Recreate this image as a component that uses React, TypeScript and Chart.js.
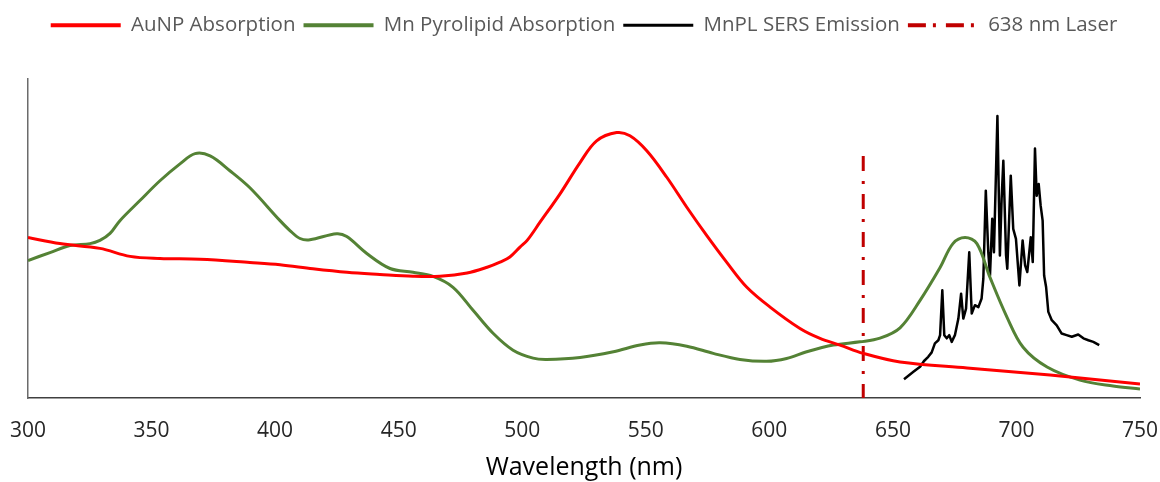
import React, { useEffect, useRef } from "react";
import { Chart, registerables } from "chart.js";

Chart.register(...registerables);

// ---- Data (wavelength in nm, normalised absorbance / intensity) ----
const auNpNm = [300, 312.9, 329.1, 341.3, 353.4, 369.6, 389.8, 402.0, 415.3, 429.1, 442.4, 455.8, 466.7, 477.7, 485.8, 491.0, 495.0, 499.1, 502.0, 507.2, 515.3, 523.4, 530.1, 538.2, 543.6, 550.4, 558.5, 566.6, 574.7, 582.7, 590.8, 600.3, 612.4, 620.5, 628.6, 638.0, 652.9, 680.0, 713.6, 750];
const auNpAbs = [0.503, 0.484, 0.469, 0.444, 0.4375, 0.435, 0.425, 0.418, 0.405, 0.394, 0.3875, 0.382, 0.382, 0.392, 0.41, 0.426, 0.442, 0.473, 0.494, 0.551, 0.64, 0.738, 0.806, 0.832, 0.822, 0.775, 0.692, 0.598, 0.509, 0.426, 0.348, 0.285, 0.218, 0.187, 0.166, 0.14, 0.113, 0.094, 0.072, 0.044];

const mnPlNm = [300, 308.9, 317.0, 325.1, 329.1, 333.2, 337.2, 345.3, 353.4, 361.5, 367.6, 373.7, 381.7, 389.8, 402.0, 406.0, 410.1, 414.1, 424.9, 429.0, 437.1, 446.5, 455.8, 463.9, 472.0, 480.1, 488.2, 496.3, 504.4, 509.9, 523.4, 536.9, 547.7, 555.8, 566.6, 577.3, 588.1, 598.9, 607.0, 615.1, 625.9, 636.7, 644.8, 652.9, 661.0, 669.1, 674.3, 679.2, 684.0, 689.3, 696.2, 702.7, 712.4, 725.7, 739.1, 750];
const mnPlAbs = [0.431, 0.456, 0.478, 0.484, 0.494, 0.516, 0.556, 0.619, 0.681, 0.734, 0.766, 0.759, 0.7125, 0.659, 0.556, 0.525, 0.5, 0.496, 0.515, 0.506, 0.453, 0.406, 0.394, 0.381, 0.347, 0.275, 0.203, 0.15, 0.125, 0.121, 0.127, 0.145, 0.166, 0.173, 0.1625, 0.14, 0.121, 0.115, 0.124, 0.145, 0.166, 0.176, 0.1875, 0.22, 0.306, 0.409, 0.484, 0.503, 0.484, 0.378, 0.253, 0.159, 0.097, 0.056, 0.0375, 0.028];

const sersNm = [654.5, 658.3, 661.0, 662.6, 664.3, 665.7, 667.0, 668.4, 669.1, 670.0, 670.8, 671.8, 672.8, 673.8, 675.1, 676.5, 677.6, 678.5, 679.6, 680.9, 681.9, 683.2, 684.6, 685.9, 686.6, 687.6, 688.6, 689.3, 690.2, 690.9, 692.3, 693.3, 694.0, 694.7, 695.8, 696.3, 697.7, 698.7, 699.8, 701.2, 702.5, 703.5, 704.4, 705.8, 706.6, 707.5, 708.2, 709.0, 709.8, 710.6, 711.2, 712.0, 712.9, 714.3, 716.3, 718.3, 720.3, 722.4, 725.0, 727.1, 729.1, 731.1, 733.5];
const sersInt = [0.059, 0.082, 0.098, 0.116, 0.129, 0.143, 0.171, 0.181, 0.197, 0.3375, 0.197, 0.187, 0.197, 0.176, 0.197, 0.249, 0.327, 0.249, 0.28, 0.457, 0.265, 0.291, 0.285, 0.312, 0.374, 0.65, 0.457, 0.384, 0.562, 0.457, 0.884, 0.447, 0.624, 0.744, 0.447, 0.405, 0.697, 0.53, 0.499, 0.353, 0.494, 0.416, 0.395, 0.504, 0.426, 0.782, 0.634, 0.671, 0.603, 0.556, 0.384, 0.348, 0.27, 0.244, 0.228, 0.202, 0.197, 0.192, 0.199, 0.187, 0.181, 0.176, 0.166];

const laserNm = [638, 638];
const laserY = [0.759, 0];

const seriesLabels = ["AuNP Absorption", "Mn Pyrolipid Absorption", "MnPL SERS Emission", "638 nm Laser"];
const xTicks = [300, 350, 400, 450, 500, 550, 600, 650, 700, 750];

const toPoints = (xs: number[], ys: number[]) => xs.map((x, i) => ({ x, y: ys[i] }));

export default function App() {
  const ref = useRef<HTMLCanvasElement | null>(null);

  useEffect(() => {
    if (!ref.current) return;
    Chart.defaults.font.family = '"Open Sans", sans-serif';
    const legendDash: Record<number, number[]> = { 3: [18, 7, 3, 10] };
    const chart = new Chart(ref.current, {
      type: "line",
      data: {
        datasets: [
          {
            label: seriesLabels[0],
            data: toPoints(auNpNm, auNpAbs),
            borderColor: "#FF0000",
            backgroundColor: "#FF0000",
            borderWidth: 3,
            pointRadius: 0,
            tension: 0.35,
          },
          {
            label: seriesLabels[1],
            data: toPoints(mnPlNm, mnPlAbs),
            borderColor: "#548235",
            backgroundColor: "#548235",
            borderWidth: 3,
            pointRadius: 0,
            tension: 0.35,
          },
          {
            label: seriesLabels[2],
            data: toPoints(sersNm, sersInt),
            borderColor: "#000000",
            backgroundColor: "#000000",
            borderWidth: 2.5,
            pointRadius: 0,
            tension: 0,
            borderJoinStyle: "round",
          },
          {
            label: seriesLabels[3],
            data: toPoints(laserNm, laserY),
            borderColor: "#C00000",
            backgroundColor: "#C00000",
            borderWidth: 3,
            borderDash: [15, 10, 3, 10],
            pointRadius: 0,
            tension: 0,
          },
        ],
      },
      options: {
        responsive: false,
        animation: false,
        layout: { padding: { left: 28, right: 20, top: 7, bottom: 0 } },
        plugins: {
          tooltip: { enabled: false },
          legend: {
            position: "top",
            labels: {
              usePointStyle: true,
              pointStyle: "line",
              pointStyleWidth: 70,
              padding: 8,
              color: "#595959",
              font: { size: 20.5 },
              generateLabels: (c: any) =>
                c.data.datasets.map((ds: any, i: number) => ({
                  text: ds.label,
                  fillStyle: ds.borderColor,
                  strokeStyle: ds.borderColor,
                  lineWidth: i === 2 ? 3 : 4,
                  lineDash: legendDash[i] || [],
                  pointStyle: "line",
                  hidden: false,
                  datasetIndex: i,
                  fontColor: "#595959",
                })),
            },
            onClick: () => {},
          },
        },
        scales: {
          x: {
            type: "linear",
            position: "bottom",
            min: 300,
            max: 750,
            afterBuildTicks: (s: any) => {
              s.ticks = xTicks.map((v) => ({ value: v }));
            },
            afterFit: (s: any) => {
              s.height = 84;
              s.paddingLeft = 0;
              s.paddingRight = 0;
            },
            grid: { display: false, drawTicks: false },
            border: { display: true, color: "#404040", width: 1.5 },
            ticks: { padding: 20, color: "#262626", font: { size: 21 }, maxRotation: 0 },
            title: {
              display: true,
              text: "Wavelength (nm)",
              color: "#000000",
              font: { size: 25 },
              padding: { top: 0, bottom: -1 },
            },
          },
          xTop: {
            type: "linear",
            axis: "x",
            position: "top",
            display: true,
            grid: { display: false, drawTicks: false },
            border: { display: false },
            ticks: { display: false },
            afterFit: (s: any) => {
              s.height = 33.5;
              s.paddingLeft = 0;
              s.paddingRight = 0;
            },
          },
          y: {
            type: "linear",
            min: 0,
            max: 1,
            grid: { display: false, drawTicks: false },
            border: { display: true, color: "#6b6b6b", width: 1.5 },
            ticks: { display: false },
            afterFit: (s: any) => {
              s.width = 0;
            },
          },
        },
      },
    } as any);
    return () => chart.destroy();
  }, []);

  return (
    <div style={{ position: "fixed", left: 0, top: 0, width: 1160, height: 482, background: "#ffffff" }}>
      <canvas ref={ref} width={1160} height={482} />
    </div>
  );
}
